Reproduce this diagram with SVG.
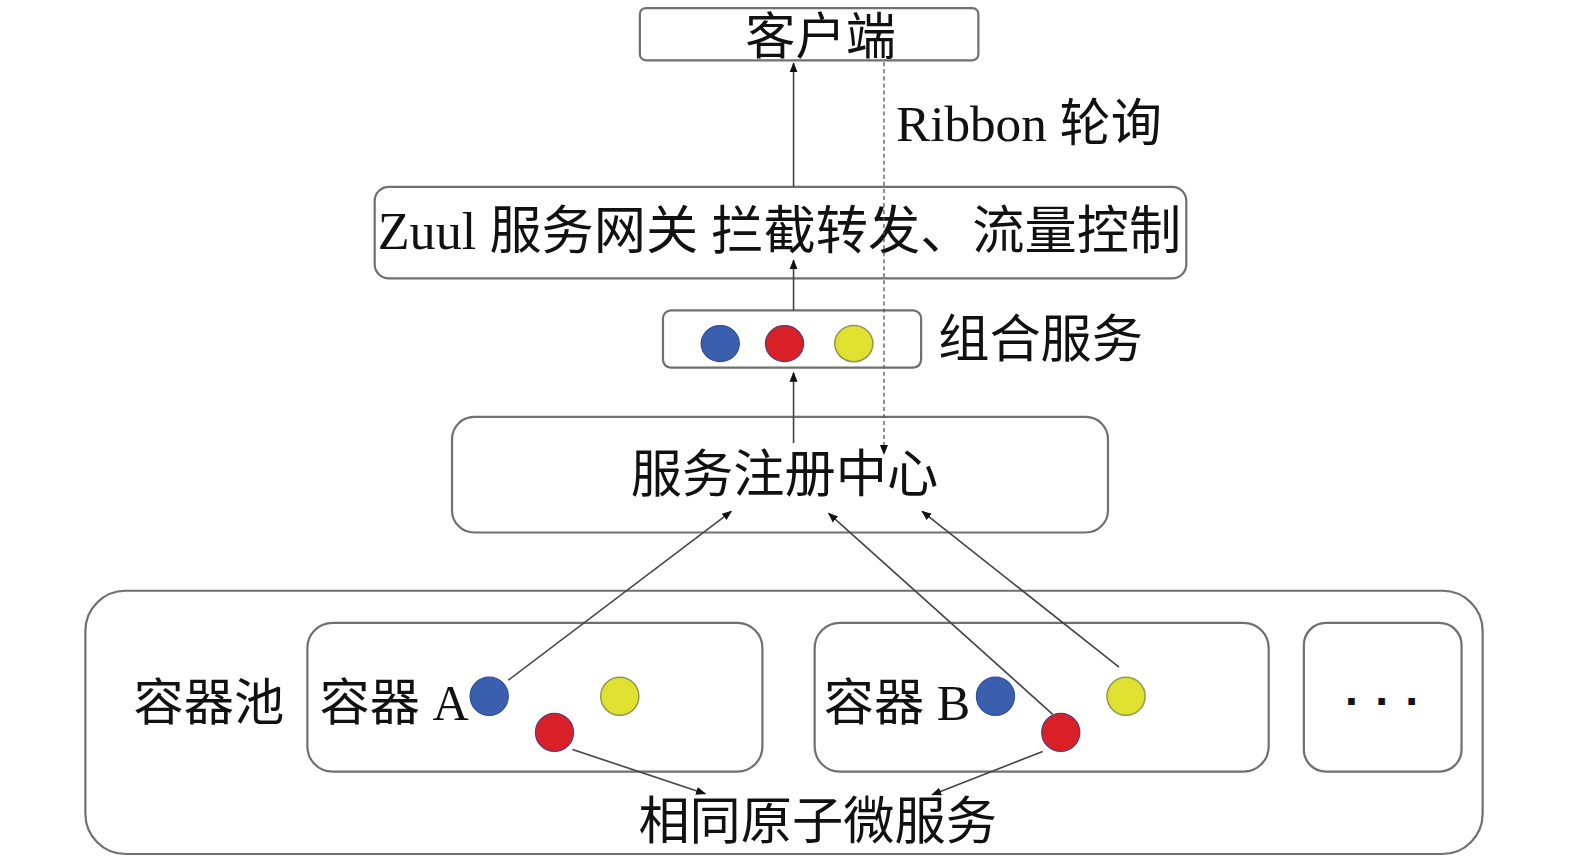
<svg xmlns="http://www.w3.org/2000/svg" width="1575" height="862" viewBox="0 0 1575 862">
<style>
.box{fill:#fff;stroke:#707070;stroke-width:2.2}
.t{font-family:"Liberation Serif","Noto Sans CJK SC",serif;fill:#111}
.c{stroke:#444;stroke-width:1.6;fill:none}
.d{stroke:#555;stroke-width:1.3;fill:none;stroke-dasharray:4 3}
.blue{fill:#3a5fae;stroke:#2f4f9a;stroke-width:1.2}
.red{fill:#d92027;stroke:#5a3a7a;stroke-width:1.2}
.yellow{fill:#e0e030;stroke:#8a9a50;stroke-width:1.5}
</style>
<defs>
<marker id="ah" markerUnits="userSpaceOnUse" markerWidth="10" markerHeight="10" viewBox="0 0 10 10" refX="9" refY="5" orient="auto">
<path d="M0,1 L10,5 L0,9 Z" fill="#111"/>
</marker>
</defs>
<rect width="1575" height="862" fill="#fff"/>
<g transform="scale(1.0045 1.0047)">
<g id="pool">
<rect class="box" x="85" y="588" width="1391" height="262" rx="40"/>
<text class="t" x="133" y="717" font-size="50">容器池</text>
</g>
<g id="containerA">
<rect class="box" x="306" y="620" width="453" height="148" rx="25"/>
<text class="t" x="318" y="717" font-size="50">容器 A</text>
<ellipse class="blue" cx="487" cy="693" rx="19" ry="19"/>
<ellipse class="yellow" cx="617" cy="693" rx="19" ry="19"/>
<ellipse class="red" cx="552" cy="729" rx="19" ry="19"/>
</g>
<g id="containerB">
<rect class="box" x="811" y="620" width="452" height="148" rx="25"/>
<text class="t" x="820" y="717" font-size="50">容器 B</text>
<ellipse class="blue" cx="991" cy="693" rx="19" ry="19"/>
<ellipse class="yellow" cx="1121" cy="693" rx="19" ry="19"/>
<ellipse class="red" cx="1056" cy="729" rx="19" ry="19"/>
</g>
<g id="more">
<rect class="box" x="1298" y="620" width="157" height="148" rx="22"/>
<text x="1339 1369 1399" y="702" font-size="46" font-weight="bold" font-family="Liberation Sans, sans-serif" fill="#111">...</text>
</g>
<g id="atomic">
<text class="t" x="814" y="835" font-size="51" text-anchor="middle">相同原子微服务</text>
</g>
<g id="registry">
<rect class="box" x="450" y="415" width="653" height="115" rx="22"/>
<text class="t" x="781" y="490" font-size="51" text-anchor="middle">服务注册中心</text>
</g>
<g id="combo">
<rect class="box" x="660" y="309" width="257" height="57" rx="8"/>
<ellipse class="blue" cx="717" cy="342" rx="19" ry="18"/>
<ellipse class="red" cx="781" cy="342" rx="19" ry="18"/>
<ellipse class="yellow" cx="850" cy="342" rx="19" ry="18"/>
<text class="t" x="934" y="355" font-size="51">组合服务</text>
</g>
<g id="zuul">
<rect class="box" x="373" y="186" width="808" height="91" rx="14"/>
<text class="t" x="776" y="248" font-size="52" text-anchor="middle">Zuul 服务网关 拦截转发、流量控制</text>
</g>
<g id="client">
<rect class="box" x="637" y="8" width="337" height="52" rx="6"/>
<text class="t" x="817" y="54" font-size="50" text-anchor="middle">客户端</text>
</g>
<g id="ribbon">
<text class="t" x="892" y="140" font-size="51">Ribbon 轮询</text>
</g>

<g id="connectors">
<line class="c" x1="790" y1="186" x2="790" y2="63" marker-end="url(#ah)"/>
<line class="c" x1="790" y1="309" x2="790" y2="259" marker-end="url(#ah)"/>
<line class="c" x1="790" y1="441" x2="790" y2="371" marker-end="url(#ah)"/>
<line class="d" x1="880" y1="62" x2="880" y2="452" marker-end="url(#ah)"/>
<line class="c" x1="506" y1="677" x2="728" y2="509" marker-end="url(#ah)"/>
<line class="c" x1="1048" y1="711" x2="825" y2="511" marker-end="url(#ah)"/>
<line class="c" x1="1114" y1="664" x2="918" y2="509" marker-end="url(#ah)"/>
<line class="c" x1="570" y1="746" x2="702" y2="790" marker-end="url(#ah)"/>
<line class="c" x1="1038" y1="748" x2="928" y2="791" marker-end="url(#ah)"/>
</g>
</g>
</svg>
